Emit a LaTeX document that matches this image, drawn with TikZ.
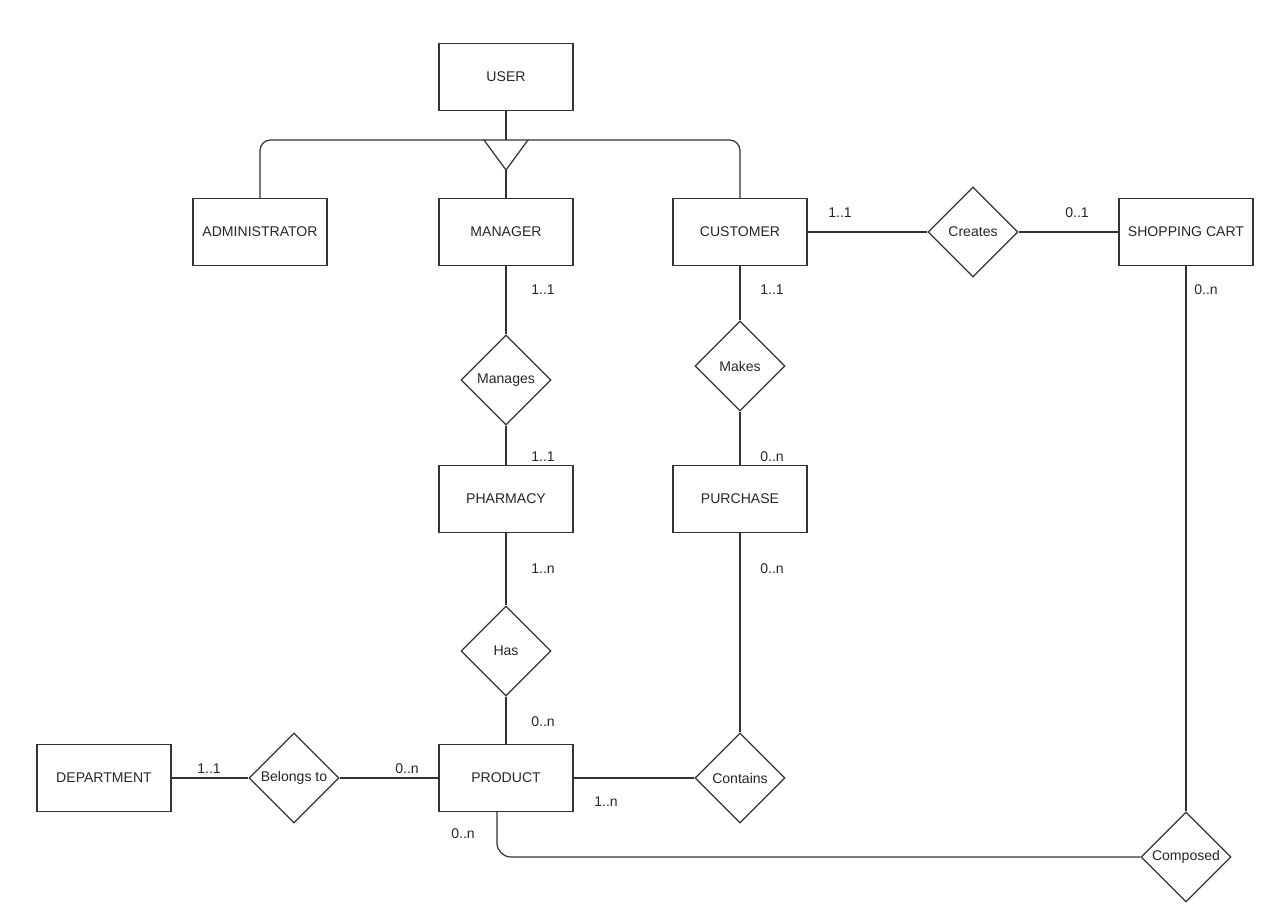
\documentclass[tikz,border=0pt]{standalone}
\usepackage{fontspec}
\setmainfont{Liberation Sans}
\usetikzlibrary{shapes.geometric}

\tikzset{
  entity/.style={draw,minimum width=2.68cm,minimum height=1.34cm},
  rel/.style={draw,diamond,aspect=1,minimum size=1.8cm,inner sep=0pt},
  card/.style={inner sep=1pt}
}

\begin{document}
\begin{tikzpicture}[x=0.2mm,y=-0.2mm,line width=0.7pt,draw=black!80,
    every node/.style={font=\fontsize{8}{10}\selectfont,text=black!85}]
      \useasboundingbox (0,0) rectangle (1272,921);
      % entities
      \node[entity] (User) at (506,77) {USER};
      \node[entity] (Admin) at (260,232) {ADMINISTRATOR};
      \node[entity] (Manager) at (506,232) {MANAGER};
      \node[entity] (Customer) at (740,232) {CUSTOMER};
      \node[entity] (Cart) at (1186,232) {SHOPPING CART};
      \node[entity] (Pharmacy) at (506,499) {PHARMACY};
      \node[entity] (Purchase) at (740,499) {PURCHASE};
      \node[entity] (Dept) at (104,778) {DEPARTMENT};
      \node[entity] (Product) at (506,778) {PRODUCT};
      % relationships
      \node[rel] (Creates) at (973,232) {Creates};
      \node[rel] (Manages) at (506,380) {Manages};
      \node[rel] (Makes) at (740,366) {Makes};
      \node[rel] (Has) at (506,651) {Has};
      \node[rel] (Belongs) at (294,778) {Belongs to};
      \node[rel] (Contains) at (740,778) {Contains};
      \node[rel] (Composed) at (1186,857) {Composed};
      % generalisation
      \coordinate (isaL) at (484,140);
      \coordinate (isaT) at (506,140);
      \coordinate (isaR) at (528,140);
      \coordinate (isaB) at (506,170);
      \draw (isaL) -- (isaR) -- (isaB) -- cycle;
      \draw (User) -- (isaT);
      \draw (isaB) -- (Manager);
      \draw[rounded corners=6] (Admin.north) |- (isaL);
      \draw[rounded corners=6] (Customer.north) |- (isaR);
      % connectors
      \foreach \a/\b in {Customer/Creates,Creates/Cart,Manager/Manages,Manages/Pharmacy,
        Customer/Makes,Makes/Purchase,Pharmacy/Has,Has/Product,Dept/Belongs,
        Belongs/Product,Product/Contains,Purchase/Contains,Cart/Composed}
        {\draw (\a) -- (\b);}
      \draw[rounded corners=8] ([xshift=-1.8mm]Product.south) |- (Composed.west);
      % cardinalities
      \node[card] (c1) at (840,213) {1..1};
      \node[card] (c2) at (1077,213) {0..1};
      \node[card] (c3) at (543,290) {1..1};
      \node[card] (c4) at (543,457) {1..1};
      \node[card] (c5) at (772,290) {1..1};
      \node[card] (c6) at (772,457) {0..n};
      \node[card] (c7) at (543,569) {1..n};
      \node[card] (c8) at (772,569) {0..n};
      \node[card] (c9) at (543,722) {0..n};
      \node[card] (c10) at (209,769) {1..1};
      \node[card] (c11) at (407,769) {0..n};
      \node[card] (c12) at (606,802) {1..n};
      \node[card] (c13) at (463,834) {0..n};
      \node[card] (c14) at (1206,290) {0..n};
    \end{tikzpicture}
\end{document}
